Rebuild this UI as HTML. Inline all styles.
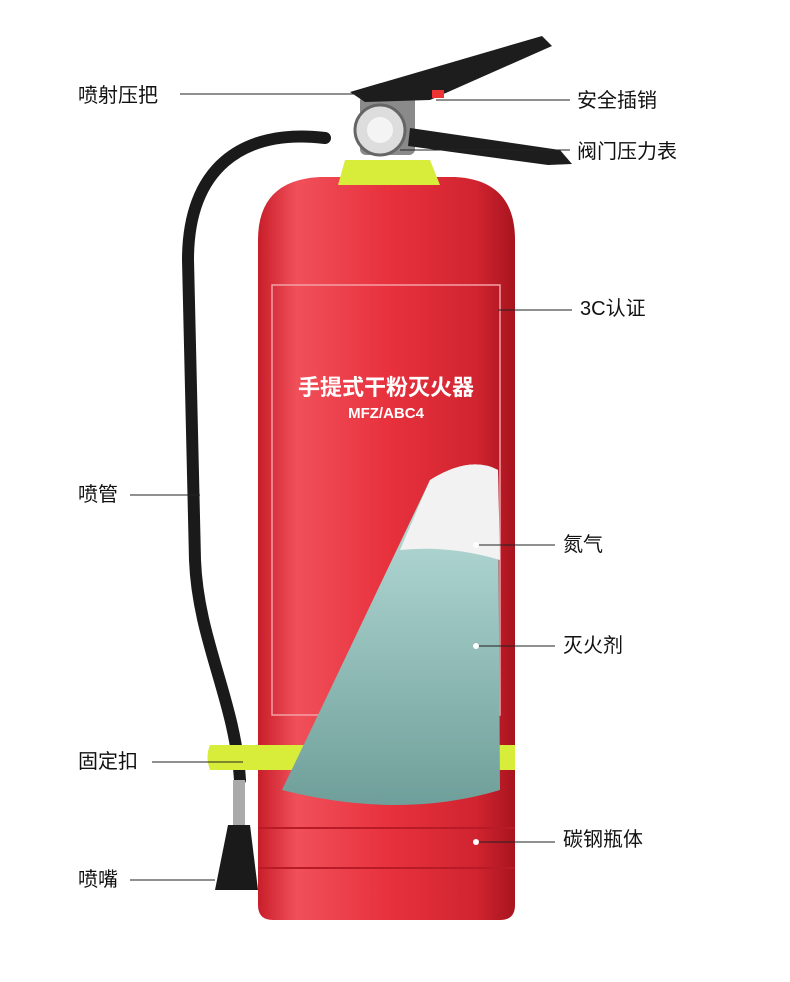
<!DOCTYPE html>
<html><head><meta charset="utf-8"><style>
body{margin:0;background:#fff;width:790px;height:982px;overflow:hidden;position:relative;font-family:"Liberation Sans","Noto Sans CJK SC",sans-serif}
.l{position:absolute;font-size:20px;color:#111;line-height:24px}
</style></head><body>
<svg width="790" height="982" style="position:absolute;left:0;top:0">
<defs>
<linearGradient id="r" x1="0" x2="1">
<stop offset="0" stop-color="#c81e2a"/><stop offset="0.15" stop-color="#f0505a"/><stop offset="0.5" stop-color="#e8323e"/><stop offset="0.85" stop-color="#d02430"/><stop offset="1" stop-color="#a8141e"/></linearGradient>
<linearGradient id="t" x1="0" y1="0" x2="0" y2="1"><stop offset="0" stop-color="#bfe3df"/><stop offset="1" stop-color="#6f9f9a"/></linearGradient>
</defs>
<path d="M325 138 C240 128 188 170 188 260 L195 560 C198 640 235 700 240 780" stroke="#1a1a1a" stroke-width="12" fill="none" stroke-linecap="round"/>
<path d="M258 240 Q258 180 320 177 L455 177 Q515 180 515 240 L515 905 Q515 920 500 920 L273 920 Q258 920 258 905 Z" fill="url(#r)"/>
<rect x="272" y="285" width="228" height="430" fill="none" stroke="#f4a0a6" stroke-width="1.5"/>
<line x1="258" y1="828" x2="515" y2="828" stroke="#b81a26" stroke-width="2"/>
<line x1="258" y1="868" x2="515" y2="868" stroke="#b81a26" stroke-width="2"/>
<text x="386" y="395" font-size="22" fill="#fff" text-anchor="middle" font-weight="bold" font-family="Noto Sans CJK SC,sans-serif">手提式干粉灭火器</text>
<text x="386" y="418" font-size="15" fill="#fff" text-anchor="middle" font-weight="bold">MFZ/ABC4</text>
<path d="M345 160 L430 160 L440 185 L338 185 Z" fill="#d8ec3a"/>
<rect x="360" y="95" width="55" height="60" rx="6" fill="#8a8a8a"/>
<circle cx="380" cy="130" r="25" fill="#ddd" stroke="#666" stroke-width="3"/>
<circle cx="380" cy="130" r="13" fill="#f4f4f4"/>
<path d="M350 92 L542 36 L552 46 L430 100 L365 102 Z" fill="#1d1d1d"/>
<path d="M410 128 L560 150 L572 164 L548 165 L408 146 Z" fill="#1d1d1d"/>
<rect x="432" y="90" width="12" height="8" fill="#e33"/>
<path d="M210 745 L515 745 L515 770 L210 770 Q205 757 210 745 Z" fill="#d8ec3a"/>
<path d="M282 790 L330 690 L430 480 Q470 455 498 470 L500 790 Q400 820 282 790 Z" fill="url(#t)"/>
<path d="M430 480 Q470 455 498 470 L500 560 Q450 545 400 550 Z" fill="#f2f2f2"/>
<rect x="233" y="780" width="12" height="45" fill="#aaa"/>
<path d="M228 825 L250 825 L258 890 L215 890 Z" fill="#1a1a1a"/>
<g stroke="#222" stroke-width="1">
<line x1="180" y1="94" x2="360" y2="94"/>
<line x1="436" y1="100" x2="570" y2="100"/>
<line x1="400" y1="150" x2="570" y2="150"/>
<line x1="498" y1="310" x2="572" y2="310"/>
<line x1="130" y1="495" x2="200" y2="495"/>
<line x1="476" y1="545" x2="555" y2="545"/>
<line x1="476" y1="646" x2="555" y2="646"/>
<line x1="152" y1="762" x2="243" y2="762"/>
<line x1="476" y1="842" x2="555" y2="842"/>
<line x1="130" y1="880" x2="215" y2="880"/>
</g>
<g fill="#fff"><circle cx="476" cy="545" r="3"/><circle cx="476" cy="646" r="3"/><circle cx="476" cy="842" r="3"/></g>
</svg>
<div class="l" style="left:78px;top:84px">喷射压把</div>
<div class="l" style="left:577px;top:89px">安全插销</div>
<div class="l" style="left:577px;top:140px">阀门压力表</div>
<div class="l" style="left:580px;top:297px">3C认证</div>
<div class="l" style="left:78px;top:483px">喷管</div>
<div class="l" style="left:563px;top:533px">氮气</div>
<div class="l" style="left:563px;top:634px">灭火剂</div>
<div class="l" style="left:78px;top:750px">固定扣</div>
<div class="l" style="left:563px;top:828px">碳钢瓶体</div>
<div class="l" style="left:78px;top:868px">喷嘴</div>
</body></html>
